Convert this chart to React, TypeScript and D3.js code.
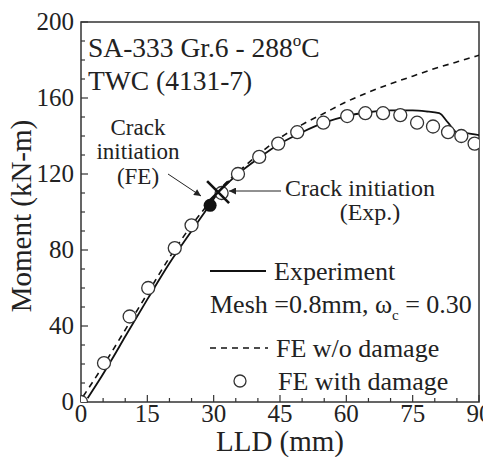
import React, { useRef, useEffect } from 'react';
import * as d3 from 'd3';

// Experiment (solid)
const expLLD = [1.5, 4, 7, 10, 15, 20, 25, 28, 31, 35, 40, 45, 50, 55, 60, 65, 70, 75, 78, 81, 83, 85, 87, 90];
const expMoment = [2, 11, 22.5, 34.5, 54, 73, 90, 100, 110, 119, 128, 136, 142, 147, 150.5, 152.5, 153.5, 153.5, 153, 152, 147, 142, 141.5, 140.5];

// FE w/o damage (dashed)
const feLLD = [0.5, 5, 10, 15, 20, 25, 28, 31, 35, 40, 45, 50, 55, 60, 65, 70, 75, 80, 85, 90];
const feMoment = [3, 19, 38, 57, 76, 93, 102, 111, 120, 130, 139, 146, 152, 158, 163, 167.5, 171.5, 175.5, 179, 182.5];

// FE with damage (circles)
const dmgLLD = [0, 5.2, 11, 15.2, 21.2, 25, 31.8, 35.5, 40.3, 44.6, 48.9, 54.8, 60.2, 64.3, 68.3, 72.2, 76, 79.6, 83, 86, 89];
const dmgMoment = [0, 20.5, 45, 60, 81, 93, 110, 120, 129, 136, 142, 147, 150.5, 152, 152, 151, 147, 145, 142, 140, 136];

const feInit = [29.2, 103.5];
const expInit = [31, 110.5];

const xTicks = [0, 15, 30, 45, 60, 75, 90];
const yTicks = [0, 40, 80, 120, 160, 200];

const font = '"Liberation Serif", "Times New Roman", serif';

function Chart() {
  const ref = useRef<SVGSVGElement>(null);

  useEffect(() => {
    const svg = d3.select(ref.current);
    svg.selectAll('*').remove();

    const left = 81, right = 479, top = 22, bottom = 402;
    const x = d3.scaleLinear().domain([0, 90]).range([left, right]);
    const y = d3.scaleLinear().domain([0, 200]).range([bottom, top]);

    const defs = svg.append('defs');
    defs.append('clipPath').attr('id', 'plot')
      .append('rect').attr('x', left).attr('y', top).attr('width', right - left).attr('height', bottom - top);
    defs.append('marker').attr('id', 'ah').attr('viewBox', '0 0 10 10')
      .attr('refX', 10).attr('refY', 5).attr('markerWidth', 9).attr('markerHeight', 7)
      .attr('orient', 'auto').attr('markerUnits', 'userSpaceOnUse')
      .append('path').attr('d', 'M0,0 L10,5 L0,10 z').attr('fill', '#222');

    // ticks (inward)
    const ax = svg.append('g').attr('stroke', '#333').attr('stroke-width', 1.2);
    d3.range(0, 91, 5).forEach((v) => {
      const major = v % 15 === 0;
      ax.append('line').attr('x1', x(v)).attr('x2', x(v)).attr('y1', bottom).attr('y2', bottom - (major ? 7 : 4));
    });
    d3.range(0, 201, 10).forEach((v) => {
      const major = v % 40 === 0;
      ax.append('line').attr('y1', y(v)).attr('y2', y(v)).attr('x1', left).attr('x2', left + (major ? 7 : 4));
    });

    svg.append('rect').attr('x', left).attr('y', top).attr('width', right - left).attr('height', bottom - top)
      .attr('fill', 'none').attr('stroke', '#333').attr('stroke-width', 1.5);

    svg.selectAll('.xt').data(xTicks).enter().append('text')
      .attr('x', (d) => x(d)).attr('y', 422).attr('text-anchor', 'middle')
      .attr('font-size', 25).attr('font-family', font).attr('fill', '#222').text((d) => d);
    svg.selectAll('.yt').data(yTicks).enter().append('text')
      .attr('x', 74).attr('y', (d) => y(d) + 8).attr('text-anchor', 'end')
      .attr('font-size', 25).attr('font-family', font).attr('fill', '#222').text((d) => d);

    svg.append('text').attr('x', 280).attr('y', 451).attr('text-anchor', 'middle')
      .attr('font-size', 29).attr('font-family', font).attr('fill', '#222').text('LLD (mm)');
    svg.append('text').attr('transform', 'translate(31,216) rotate(-90)')
      .attr('text-anchor', 'middle')
      .attr('font-size', 29).attr('font-family', font).attr('fill', '#222').text('Moment (kN-m)');

    const plot = svg.append('g').attr('clip-path', 'url(#plot)');

    const line = d3.line<number>().x((d) => x(d)).curve(d3.curveMonotoneX);

    plot.append('path')
      .attr('d', line.y((d, i) => y(feMoment[i]))(feLLD))
      .attr('fill', 'none').attr('stroke', '#111').attr('stroke-width', 1.6).attr('stroke-dasharray', '6,5');
    plot.append('path')
      .attr('d', line.y((d, i) => y(expMoment[i]))(expLLD))
      .attr('fill', 'none').attr('stroke', '#111').attr('stroke-width', 1.8);

    plot.selectAll('.c').data(dmgLLD).enter().append('circle')
      .attr('cx', (d) => x(d)).attr('cy', (d, i) => y(dmgMoment[i])).attr('r', 6.5)
      .attr('fill', 'white').attr('stroke', '#333').attr('stroke-width', 1.3);

    plot.append('circle').attr('cx', x(feInit[0])).attr('cy', y(feInit[1])).attr('r', 6.5).attr('fill', '#111');

    const cx = x(expInit[0]), cy = y(expInit[1]), s = 11;
    plot.append('path').attr('d', `M${cx - s},${cy - s}L${cx + s},${cy + s}M${cx - s},${cy + s}L${cx + s},${cy - s}`)
      .attr('stroke', '#111').attr('stroke-width', 2.6);

    // annotations
    const txt = (tx: number, ty: number, t: string, size: number, anchor = 'start') =>
      svg.append('text').attr('x', tx).attr('y', ty).attr('text-anchor', anchor)
        .attr('font-size', size).attr('font-family', font).attr('fill', '#222').text(t);

    const t1 = txt(88, 57, 'SA-333 Gr.6 - 288', 27.5);
    t1.append('tspan').attr('dy', -11).attr('font-size', 17).text('o');
    t1.append('tspan').attr('dy', 11).text('C');
    txt(88, 90, 'TWC (4131-7)', 27.5);

    txt(138, 135, 'Crack', 23, 'middle');
    txt(138, 159, 'initiation', 23, 'middle');
    txt(138, 184, '(FE)', 23, 'middle');
    txt(285, 196, 'Crack initiation', 24);
    txt(370, 220, '(Exp.)', 24, 'middle');

    svg.append('line').attr('x1', 168).attr('y1', 174).attr('x2', 201).attr('y2', 196)
      .attr('stroke', '#222').attr('stroke-width', 1).attr('marker-end', 'url(#ah)');
    svg.append('line').attr('x1', 281).attr('y1', 191).attr('x2', 229).attr('y2', 191)
      .attr('stroke', '#222').attr('stroke-width', 1).attr('marker-end', 'url(#ah)');

    // legend
    svg.append('line').attr('x1', 210).attr('x2', 266).attr('y1', 271).attr('y2', 271)
      .attr('stroke', '#111').attr('stroke-width', 1.8);
    txt(274, 280, 'Experiment', 26);
    const m = txt(210, 313, 'Mesh =0.8mm, \u03c9', 26);
    m.append('tspan').attr('dy', 7).attr('font-size', 15).text('c');
    m.append('tspan').attr('dy', -7).text(' = 0.30');
    svg.append('line').attr('x1', 210).attr('x2', 268).attr('y1', 348).attr('y2', 348)
      .attr('stroke', '#111').attr('stroke-width', 1.6).attr('stroke-dasharray', '6,5');
    txt(276, 357, 'FE w/o damage', 26);
    svg.append('circle').attr('cx', 240).attr('cy', 381).attr('r', 6)
      .attr('fill', 'white').attr('stroke', '#333').attr('stroke-width', 1.3);
    txt(278, 390, 'FE with damage', 26);
  }, []);

  return <svg ref={ref} width={491} height={465} style={{ display: 'block', background: 'white' }} />;
}

export default function App() {
  return (
    <div style={{ margin: -8 }}>
      <Chart />
    </div>
  );
}
